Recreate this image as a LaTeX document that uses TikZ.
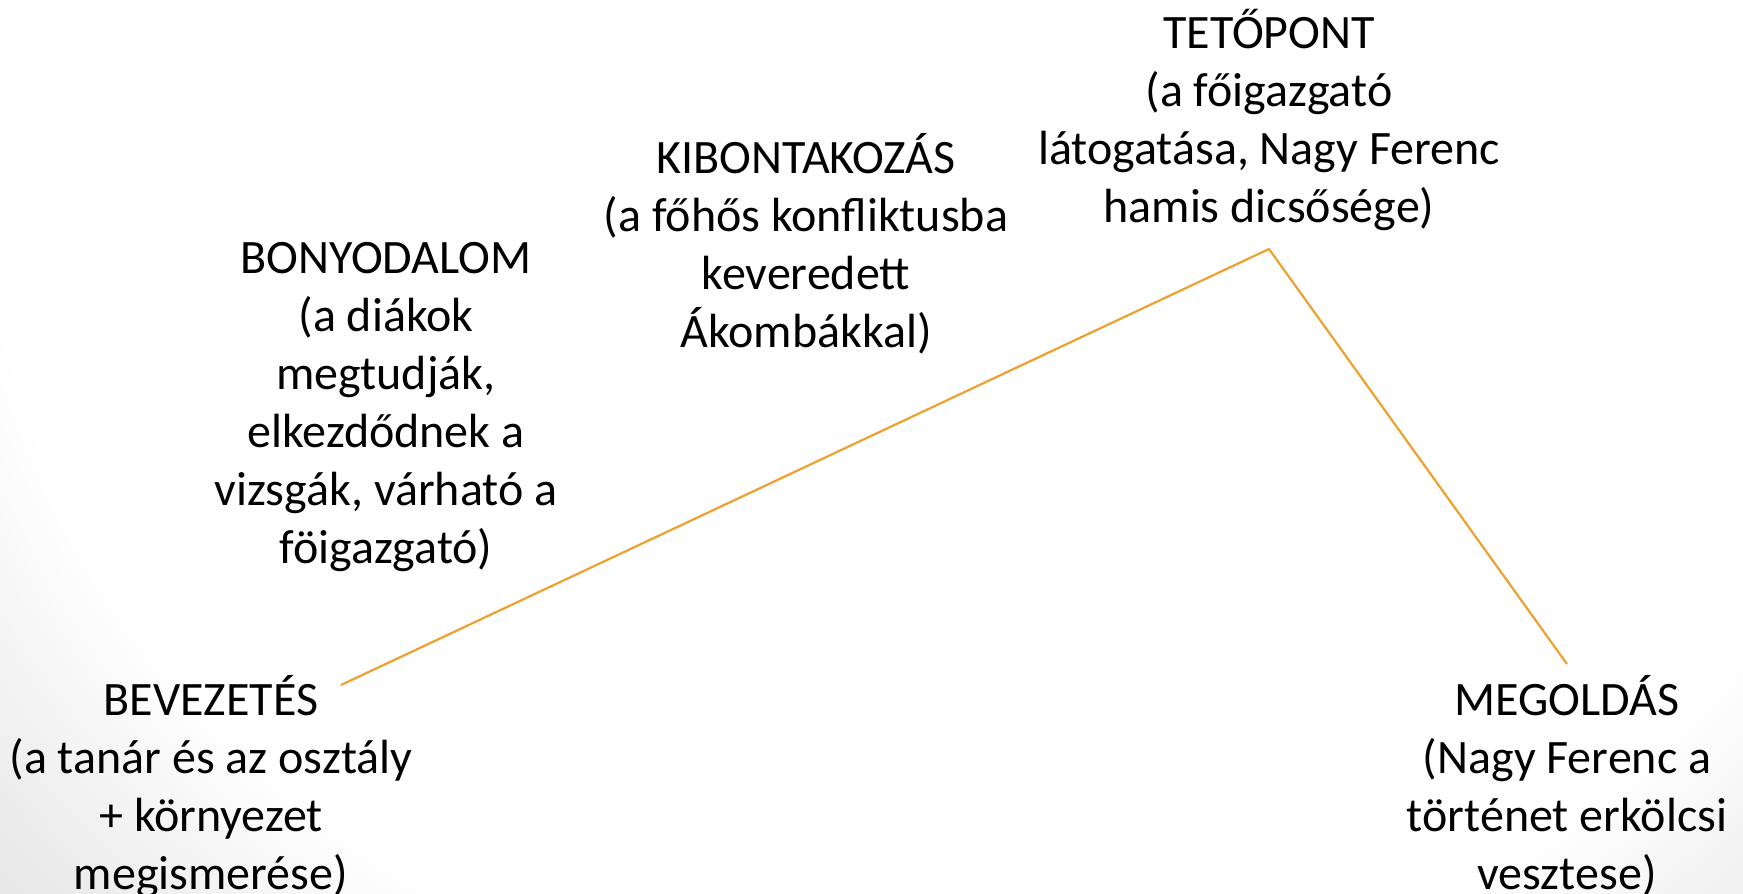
\documentclass[tikz,border=0pt]{standalone}
\usepackage{fontspec}
\setmainfont{Carlito}
\definecolor{plotline}{RGB}{237,161,47}
\tikzset{
  lbl/.style={align=center, anchor=base, inner sep=0pt, text=black,
    font=\fontsize{48}{58}\selectfont},
  plot/.style={draw=plotline, line width=2.2pt, line join=miter},
  vignette/.style={fill=black, opacity=0.0055, even odd rule}
}
\begin{document}
\begin{tikzpicture}[x=1pt, y=-1pt]
\useasboundingbox (0,0) rectangle (1743,894);
\begin{scope}
\clip (0,0) rectangle (1743,894);
\fill[white] (0,0) rectangle (1743,894);
\foreach \r in {0.97,0.982,...,1.27} {
  \path[vignette] (-20,-20) rectangle (1763,914) (950,150) ellipse ({1000*\r} and {900*\r});
}
\end{scope}
\coordinate (start) at (341,685);
\coordinate (apex) at (1269,249);
\coordinate (finish) at (1567,664);
\draw[plot] (start) -- (apex) -- (finish);
\node[lbl] (tetopont) at (1269,222.5) {TETŐPONT\\(a főigazgató\\látogatása, Nagy Ferenc\\hamis dicsősége)};
\node[lbl] (kibont) at (806,347.5) {KIBONTAKOZÁS\\(a főhős konfliktusba\\keveredett\\Ákombákkal)};
\node[lbl] (bonyod) at (386,563.5) {BONYODALOM\\(a diákok\\megtudják,\\elkezdődnek a\\vizsgák, várható a\\föigazgató)};
\node[lbl] (bevez) at (211,889.5) {BEVEZETÉS\\(a tanár és az osztály\\+ környezet\\megismerése)};
\node[lbl] (megold) at (1567,889.5) {MEGOLDÁS\\(Nagy Ferenc a\\történet erkölcsi\\vesztese)};
\end{tikzpicture}
\end{document}
